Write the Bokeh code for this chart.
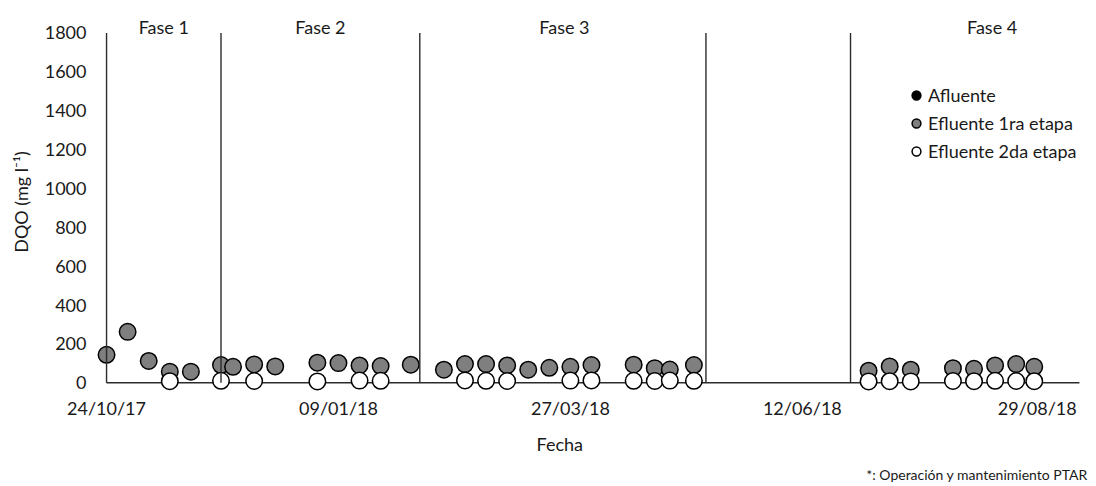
import pandas as pd
from bokeh.plotting import figure
from bokeh.models import (Range1d, FixedTicker, DatetimeTickFormatter, Title,
                          Legend, LegendItem, ColumnDataSource)
from bokeh.core.properties import value
from bokeh.embed import file_html
from bokeh.resources import INLINE

FONT = "Lato"
TXT = "#1a1a1a"
LINE = "#2b2b2b"

# ---------------- data ----------------
afluente_fechas = []
afluente_dqo = []

efluente1_fechas = ["24/10/17", "31/10/17", "07/11/17", "14/11/17", "21/11/17", "01/12/17",
                    "05/12/17", "12/12/17", "19/12/17", "02/01/18", "09/01/18", "16/01/18",
                    "23/01/18", "02/02/18", "13/02/18", "20/02/18", "27/02/18", "06/03/18",
                    "13/03/18", "20/03/18", "27/03/18", "03/04/18", "17/04/18", "24/04/18",
                    "29/04/18", "07/05/18", "04/07/18", "11/07/18", "18/07/18", "01/08/18",
                    "08/08/18", "15/08/18", "22/08/18", "28/08/18"]
efluente1_dqo = [144, 262, 112, 57, 57, 91,
                 82, 94, 84, 103, 101, 89,
                 86, 93, 67, 96, 96, 89,
                 67, 77, 82, 91, 93, 75,
                 68, 91, 62, 84, 67, 75,
                 72, 89, 96, 82]

efluente2_fechas = ["14/11/17", "01/12/17", "12/12/17", "02/01/18", "16/01/18", "23/01/18",
                    "20/02/18", "27/02/18", "06/03/18", "27/03/18", "03/04/18", "17/04/18",
                    "24/04/18", "29/04/18", "07/05/18", "04/07/18", "11/07/18", "18/07/18",
                    "01/08/18", "08/08/18", "15/08/18", "22/08/18", "28/08/18"]
efluente2_dqo = [8, 10, 9, 7, 11, 10,
                 12, 10, 9, 11, 12, 10,
                 9, 11, 10, 7, 8, 7,
                 9, 8, 10, 9, 8]

fase_limites = ["01/12/17", "05/02/18", "11/05/18", "28/06/18"]
fase_nombres = ["Fase 1", "Fase 2", "Fase 3", "Fase 4"]
fase_pos = ["12/11/17", "03/01/18", "25/03/18", "14/08/18"]

x_ticks = ["24/10/17", "09/01/18", "27/03/18", "12/06/18", "29/08/18"]
y_ticks = [0, 200, 400, 600, 800, 1000, 1200, 1400, 1600, 1800]
eje_x_inicio = "24/10/17"
eje_x_fin = "12/09/18"


def d(s):
    return pd.to_datetime(s, format="%d/%m/%y")


def ds(lst):
    return list(pd.to_datetime(lst, format="%d/%m/%y")) if lst else []


p = figure(width=1094, height=485, x_axis_type="datetime",
           output_backend="svg", toolbar_location=None,
           x_range=Range1d(d("20/10/17"), d("17/09/18")),
           y_range=Range1d(-45, 1905),
           min_border_left=94, min_border_right=0,
           min_border_top=12, min_border_bottom=94)
p.outline_line_color = None
p.grid.visible = False
p.background_fill_color = "white"
p.border_fill_color = "white"

# axes: only labels, lines drawn as glyphs
for ax in (p.xaxis[0], p.yaxis[0]):
    ax.axis_line_color = None
    ax.major_tick_line_color = None
    ax.minor_tick_line_color = None
    ax.major_tick_out = 0
    ax.major_tick_in = 0
    ax.minor_tick_out = 0
    ax.minor_tick_in = 0
    ax.major_label_text_font = FONT
    ax.major_label_text_font_size = "18px"
    ax.major_label_text_color = TXT

p.yaxis.ticker = FixedTicker(ticks=y_ticks)
p.yaxis.major_label_standoff = 8
p.yaxis.axis_label = "DQO (mg l\u207b\u00b9)"
p.yaxis.axis_label_text_font = FONT
p.yaxis.axis_label_text_font_size = "18px"
p.yaxis.axis_label_text_font_style = "normal"
p.yaxis.axis_label_text_color = TXT
p.yaxis.axis_label_standoff = 10

p.xaxis.ticker = FixedTicker(ticks=[d(s).value / 1e6 for s in x_ticks])
fmt = "%d/%m/%y"
formatter = DatetimeTickFormatter(milliseconds=fmt, seconds=fmt, minsec=fmt, minutes=fmt,
                                  hourmin=fmt, hours=fmt, days=fmt, months=fmt, years=fmt)
try:
    formatter.strip_leading_zeros = False
except Exception:
    pass
try:
    formatter.context = None
except Exception:
    pass
p.xaxis.formatter = formatter
p.xaxis.major_label_standoff = 5

# x axis line (below markers)
p.segment(x0=[d(eje_x_inicio)], y0=[0], x1=[d(eje_x_fin)], y1=[0],
          line_color=LINE, line_width=1.4)

src_a = ColumnDataSource(dict(x=ds(afluente_fechas), y=afluente_dqo))
src_1 = ColumnDataSource(dict(x=ds(efluente1_fechas), y=efluente1_dqo))
src_2 = ColumnDataSource(dict(x=ds(efluente2_fechas), y=efluente2_dqo))

r_a = p.scatter("x", "y", source=src_a, size=16.5, fill_color="black",
                line_color="black", line_width=1.5)
r_1 = p.scatter("x", "y", source=src_1, size=16.5, fill_color="#7f7f7f",
                line_color="black", line_width=1.5)
r_2 = p.scatter("x", "y", source=src_2, size=16.5, fill_color="white",
                line_color="black", line_width=1.5)
# legend proxy for the (not plotted) Afluente series
r_a_leg = p.scatter(x=[float("nan")], y=[float("nan")], size=16.5, fill_color="black",
                    line_color="black", line_width=1.5)

# phase separators and y axis line (on top)
lim = ds(fase_limites)
p.segment(x0=lim, y0=[0] * len(lim), x1=lim, y1=[y_ticks[-1]] * len(lim),
          line_color=LINE, line_width=1.4)
p.segment(x0=[d(eje_x_inicio)], y0=[0], x1=[d(eje_x_inicio)], y1=[y_ticks[-1]],
          line_color=LINE, line_width=1.4)

p.text(x=ds(fase_pos), y=[y_ticks[-1]] * len(fase_pos), text=fase_nombres,
       text_font=value(FONT), text_font_size="18px", text_color=TXT,
       text_align="center", text_baseline="alphabetic", y_offset=-6)

legend = Legend(items=[LegendItem(label="Afluente", renderers=[r_a_leg]),
                       LegendItem(label="Efluente 1ra etapa", renderers=[r_1]),
                       LegendItem(label="Efluente 2da etapa", renderers=[r_2])],
                location=(811, 229), glyph_width=22, glyph_height=22,
                label_standoff=1, spacing=6, padding=0, margin=0,
                border_line_color=None, background_fill_alpha=0,
                label_text_font=FONT, label_text_font_size="18px",
                label_text_color=TXT, label_height=20)
p.add_layout(legend)

p.add_layout(Title(text="Fecha", align="left", offset=442, standoff=18,
                   text_font=FONT, text_font_size="18px", text_font_style="normal",
                   text_color=TXT), "below")
p.add_layout(Title(text="*:  Operación y mantenimiento PTAR", align="right", offset=3,
                   standoff=1, text_font=FONT, text_font_size="14px",
                   text_font_style="normal", text_color=TXT), "below")

open("out.html", "w").write(file_html(p, INLINE))
